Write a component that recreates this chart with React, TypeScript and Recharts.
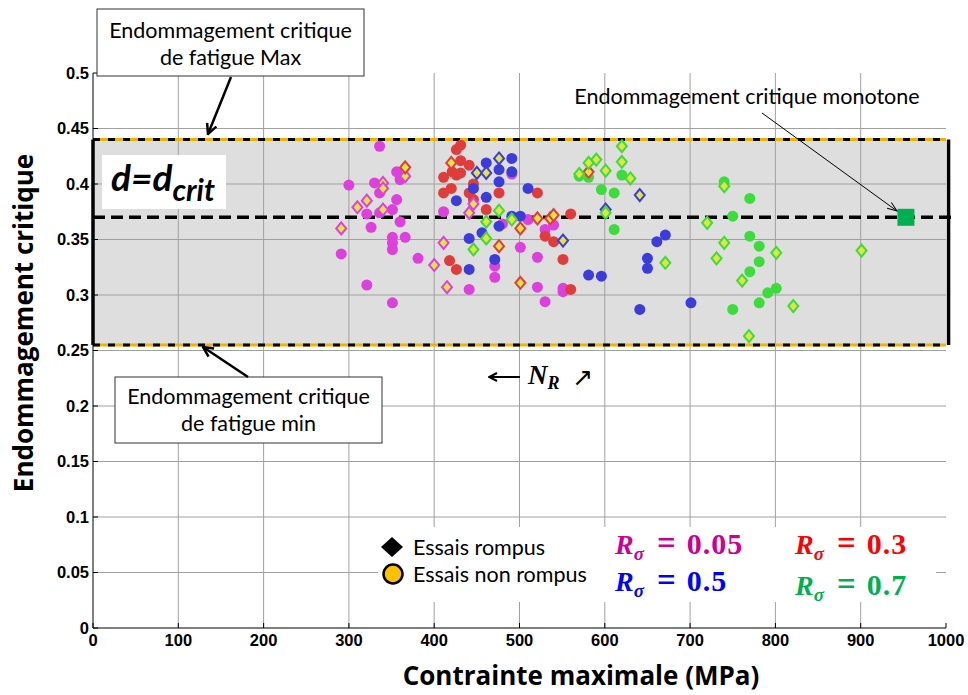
import React from "react";
import {
  ScatterChart,
  Scatter,
  XAxis,
  YAxis,
  ReferenceLine,
  ReferenceArea,
} from "recharts";

// axes
const xTicks = [0, 100, 200, 300, 400, 500, 600, 700, 800, 900, 1000];
const yTicks = [0, 0.05, 0.1, 0.15, 0.2, 0.25, 0.3, 0.35, 0.4, 0.45, 0.5];

// damage band (fatigue min / max) and critical value
const dMin = 0.255;
const dMax = 0.44;
const dCrit = 0.37;
const monotone = [{ x: 953, y: 0.37 }];

// R = 0.05 (magenta)
const r005Open = [
  [336, 0.434], [356, 0.411], [360, 0.404], [300, 0.399], [330, 0.401], [336, 0.392],
  [356, 0.386], [351, 0.377], [321, 0.373], [336, 0.374], [360, 0.366], [326, 0.361],
  [351, 0.352], [351, 0.347], [351, 0.341], [366, 0.352], [291, 0.337], [381, 0.333],
  [321, 0.309], [351, 0.293], [411, 0.375], [491, 0.409], [480, 0.364], [510, 0.368],
  [530, 0.359], [540, 0.363], [501, 0.343], [521, 0.334], [471, 0.326], [471, 0.316],
  [441, 0.305], [521, 0.307], [551, 0.306], [551, 0.303], [530, 0.294],
];
const r005Broken = [
  [340, 0.401], [340, 0.396], [321, 0.385], [310, 0.379], [340, 0.377], [366, 0.407],
  [291, 0.36], [411, 0.347], [400, 0.327], [415, 0.307], [446, 0.382], [441, 0.374],
];

// R = 0.3 (red)
const r03Open = [
  [411, 0.406], [411, 0.392], [418, 0.331], [431, 0.435], [426, 0.431], [431, 0.421],
  [441, 0.417], [421, 0.411], [431, 0.41], [426, 0.408], [446, 0.4], [420, 0.396],
  [441, 0.392], [446, 0.386], [476, 0.392], [521, 0.392], [461, 0.377], [560, 0.373],
  [530, 0.353], [540, 0.348], [551, 0.332], [426, 0.323], [560, 0.305],
];
const r03Broken = [
  [366, 0.415], [420, 0.419], [501, 0.36], [476, 0.344], [521, 0.369], [536, 0.369],
  [540, 0.372], [501, 0.311], [581, 0.411],
];

// R = 0.5 (blue)
const r05Open = [
  [491, 0.423], [461, 0.419], [476, 0.413], [491, 0.411], [476, 0.402], [446, 0.396],
  [426, 0.385], [461, 0.388], [510, 0.396], [491, 0.371], [501, 0.371], [476, 0.362],
  [456, 0.356], [441, 0.351], [471, 0.332], [441, 0.323], [581, 0.318], [596, 0.317],
  [671, 0.354], [661, 0.348], [650, 0.333], [650, 0.324], [641, 0.287], [701, 0.293],
];
const r05Broken = [
  [476, 0.423], [450, 0.41], [461, 0.41], [551, 0.349], [641, 0.39], [601, 0.377],
];

// R = 0.7 (green)
const r07Open = [
  [570, 0.407], [581, 0.406], [620, 0.408], [596, 0.395], [611, 0.392], [611, 0.359],
  [740, 0.402], [770, 0.387], [750, 0.371], [770, 0.353], [781, 0.344], [781, 0.33],
  [770, 0.321], [801, 0.306], [791, 0.302], [781, 0.293], [750, 0.287],
];
const r07Broken = [
  [476, 0.376], [461, 0.366], [461, 0.351], [446, 0.341], [491, 0.368], [620, 0.434],
  [590, 0.422], [581, 0.419], [620, 0.42], [601, 0.412], [570, 0.409], [630, 0.405],
  [601, 0.374], [671, 0.329], [740, 0.398], [720, 0.365], [740, 0.347], [731, 0.333],
  [801, 0.338], [761, 0.313], [821, 0.29], [901, 0.34], [769, 0.263],
];

const toPts = (arr: number[][]) => arr.map(([x, y]) => ({ x, y }));

const MAGENTA = "#dd40dd";
const RED = "#e03c3c";
const BLUE = "#3c3cdc";
const GREEN = "#3cdc3c";
const DIAMOND_FILL = "#e4e440";

const circle = (color: string) => (p: any) =>
  <circle cx={p.cx} cy={p.cy} r={5.5} fill={color} />;

const diamond = (color: string) => (p: any) => (
  <polygon
    points={`${p.cx},${p.cy - 6} ${p.cx + 5},${p.cy} ${p.cx},${p.cy + 6} ${p.cx - 5},${p.cy}`}
    fill={DIAMOND_FILL}
    stroke={color}
    strokeWidth={2}
  />
);

const square = (p: any) =>
  <rect x={p.cx - 8.5} y={p.cy - 8.5} width={17} height={17} fill="#00b050" />;

const tickStyle = {
  fontFamily: "Liberation Sans, Arial",
  fontWeight: "bold" as const,
  fontSize: 16.5,
  fill: "#000",
};

const serif = "Liberation Serif, DejaVu Serif";
const sans = "Lato, Noto Sans";
const titleFont = "Open Sans, Lato";

function RLabel({ x, y, color, value }: { x: number; y: number; color: string; value: string }) {
  return (
    <text x={x} y={y} fill={color} fontFamily={serif} fontWeight="bold" fontSize={28}>
      <tspan fontStyle="italic">R</tspan>
      <tspan fontStyle="italic" fontSize={19} dy={6}>σ</tspan>
      <tspan dy={-6} dx={13} fontSize={33}>=</tspan>
      <tspan dx={11} fontSize={30} letterSpacing={1}>{value}</tspan>
    </text>
  );
}

export default function App() {
  return (
    <div style={{ position: "absolute", left: 0, top: 0, width: 968, height: 695, background: "#fff" }}>
      <ScatterChart
        width={968}
        height={695}
        margin={{ top: 73, right: 22, bottom: 37, left: 53 }}
      >
        <XAxis
          type="number"
          dataKey="x"
          domain={[0, 1000]}
          ticks={xTicks}
          height={30}
          tick={tickStyle}
          tickSize={-5}
          tickMargin={11}
          stroke="#000"
          allowDataOverflow
        />
        <XAxis
          xAxisId="top"
          orientation="top"
          type="number"
          domain={[0, 1000]}
          ticks={xTicks}
          height={0}
          tick={false}
          tickSize={-5}
          stroke="#000"
        />
        <YAxis
          type="number"
          dataKey="y"
          domain={[0, 0.5]}
          ticks={yTicks}
          width={40}
          tick={tickStyle}
          tickSize={-5}
          tickMargin={9}
          stroke="#000"
          allowDataOverflow
        />
        <YAxis
          yAxisId="right"
          orientation="right"
          type="number"
          domain={[0, 0.5]}
          ticks={yTicks}
          width={0}
          tick={false}
          tickSize={-5}
          stroke="#000"
        />

        <ReferenceArea x1={0} x2={1000} y1={dMin} y2={dMax} fill="#dedede" fillOpacity={1} stroke="none" />

        {xTicks.slice(1, -1).map((t) => (
          <ReferenceLine key={"gx" + t} x={t} stroke="#a0a0a0" strokeWidth={1} />
        ))}
        {yTicks.slice(1, -1).map((t) => (
          <ReferenceLine key={"gy" + t} y={t} stroke="#a0a0a0" strokeWidth={1} />
        ))}

        {[dMin, dMax].map((v) => (
          <ReferenceLine key={"by" + v} y={v} stroke="#f0b400" strokeWidth={3} />
        ))}
        {[dMin, dMax].map((v) => (
          <ReferenceLine key={"bd" + v} y={v} stroke="#000" strokeWidth={3} strokeDasharray="7 8" />
        ))}
        <ReferenceLine
          segment={[{ x: 0, y: dMin }, { x: 0, y: dMax }]}
          stroke="#000"
          strokeWidth={3.5}
          ifOverflow="visible"
        />
        <ReferenceLine
          segment={[{ x: 1003, y: dMin }, { x: 1003, y: dMax }]}
          stroke="#000"
          strokeWidth={3.5}
          ifOverflow="visible"
        />
        <ReferenceLine
          segment={[{ x: 0, y: dCrit }, { x: 1012, y: dCrit }]}
          stroke="#000"
          strokeWidth={3.5}
          strokeDasharray="12 6"
          ifOverflow="visible"
        />

        <Scatter data={toPts(r005Open)} shape={circle(MAGENTA)} isAnimationActive={false} />
        <Scatter data={toPts(r03Open)} shape={circle(RED)} isAnimationActive={false} />
        <Scatter data={toPts(r05Open)} shape={circle(BLUE)} isAnimationActive={false} />
        <Scatter data={toPts(r07Open)} shape={circle(GREEN)} isAnimationActive={false} />
        <Scatter data={toPts(r005Broken)} shape={diamond(MAGENTA)} isAnimationActive={false} />
        <Scatter data={toPts(r03Broken)} shape={diamond(RED)} isAnimationActive={false} />
        <Scatter data={toPts(r05Broken)} shape={diamond(BLUE)} isAnimationActive={false} />
        <Scatter data={toPts(r07Broken)} shape={diamond(GREEN)} isAnimationActive={false} />
        <Scatter data={monotone} shape={square} isAnimationActive={false} />
      </ScatterChart>

      <svg
        width={968}
        height={695}
        style={{ position: "absolute", left: 0, top: 0, pointerEvents: "none" }}
      >
        <defs>
          <marker id="head" viewBox="0 0 10 10" refX="9" refY="5" markerWidth="5" markerHeight="5" orient="auto">
            <path d="M1,1 L9,5 L1,9" fill="none" stroke="#000" strokeWidth={2} />
          </marker>
          <marker id="thin" viewBox="0 0 10 10" refX="9" refY="5" markerWidth="12" markerHeight="12" orient="auto">
            <path d="M1,2 L9,5 L1,8" fill="none" stroke="#000" strokeWidth={0.8} />
          </marker>
        </defs>

        {/* axis titles */}
        <text
          x={581}
          y={685}
          textAnchor="middle"
          fontFamily={titleFont}
          fontWeight="bold"
          fontSize={26}
        >
          Contrainte maximale (MPa)
        </text>
        <text
          transform="translate(33,323) rotate(-90)"
          textAnchor="middle"
          fontFamily={titleFont}
          fontWeight="bold"
          fontSize={26}
        >
          Endommagement critique
        </text>

        {/* fatigue max */}
        <rect x={97} y={9} width={267} height={67} fill="#fff" stroke="#333" />
        <text x={230.5} y={38} textAnchor="middle" fontFamily={sans} fontSize={21.5}>
          Endommagement critique
        </text>
        <text x={230.5} y={65} textAnchor="middle" fontFamily={sans} fontSize={21.5}>
          de fatigue Max
        </text>
        <line x1={231} y1={77} x2={208} y2={134} stroke="#000" strokeWidth={2.5} markerEnd="url(#head)" />

        {/* fatigue min */}
        <rect x={115} y={377} width={267} height={66} fill="#fff" stroke="#333" />
        <text x={248.5} y={404} textAnchor="middle" fontFamily={sans} fontSize={21.5}>
          Endommagement critique
        </text>
        <text x={248.5} y={431} textAnchor="middle" fontFamily={sans} fontSize={21.5}>
          de fatigue min
        </text>
        <line x1={248} y1={377} x2={203} y2={347} stroke="#000" strokeWidth={2.5} markerEnd="url(#head)" />

        {/* d = d_crit */}
        <rect x={102} y={155} width={124} height={54} fill="#fff" />
        <text x={111} y={191} fontFamily={sans} fontWeight="bold" fontStyle="italic" fontSize={37}>
          d=d
          <tspan fontSize={30} dy={10}>crit</tspan>
        </text>

        {/* monotone */}
        <text x={747} y={104} textAnchor="middle" fontFamily={sans} fontSize={21.5}>
          Endommagement critique monotone
        </text>
        <line x1={762} y1={113} x2={897} y2={211} stroke="#000" strokeWidth={1} markerEnd="url(#thin)" />

        {/* N_R */}
        <line x1={520} y1={377} x2={489} y2={377} stroke="#000" strokeWidth={2} markerEnd="url(#head)" />
        <text x={528} y={384} fontFamily={serif} fontWeight="bold" fontStyle="italic" fontSize={27}>
          N
          <tspan fontSize={18} dy={5}>R</tspan>
        </text>
        <text x={572} y={386} fontFamily="DejaVu Sans" fontSize={25}>↗</text>

        {/* legend */}
        <rect x={378} y={527} width={558} height={75} fill="#fff" />
        <polygon points="392,537 403,547 392,557 381,547" fill="#000" />
        <circle cx={393} cy={574} r={9.5} fill="#ffc000" stroke="#000" strokeWidth={2.5} />
        <text x={413} y={555} fontFamily={sans} fontSize={21.5}>Essais rompus</text>
        <text x={413} y={582} fontFamily={sans} fontSize={21.5}>Essais non rompus</text>

        <RLabel x={615} y={554} color="#cc0099" value="0.05" />
        <RLabel x={795} y={554} color="#ff0000" value="0.3" />
        <RLabel x={615} y={591} color="#0000ff" value="0.5" />
        <RLabel x={795} y={595} color="#00b050" value="0.7" />
      </svg>
    </div>
  );
}
